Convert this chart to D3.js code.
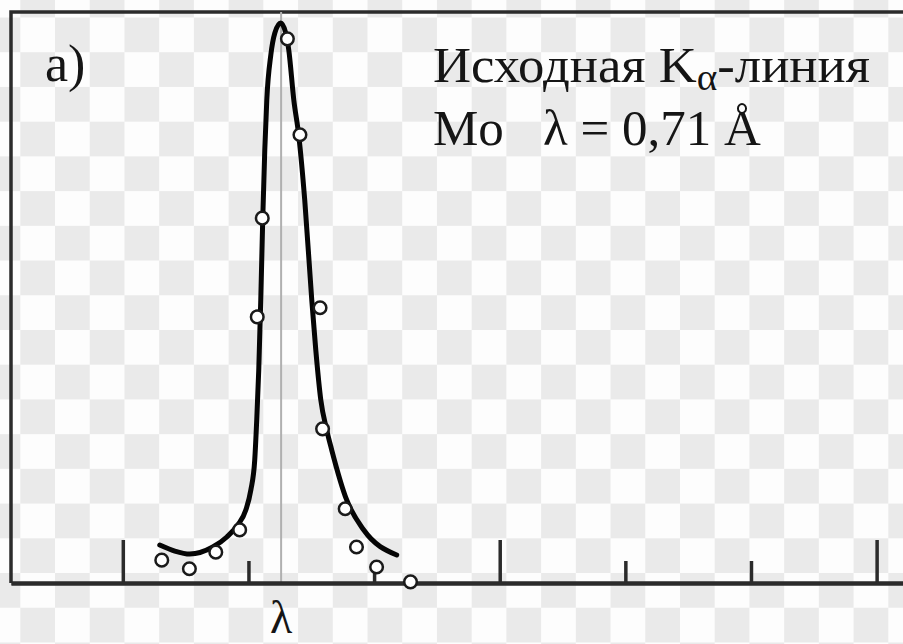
<!DOCTYPE html>
<html>
<head>
<meta charset="utf-8">
<script src="https://cdn.jsdelivr.net/npm/d3@7"></script>
<style>
  html, body { margin: 0; padding: 0; background: #fdfdfd; }
  svg { display: block; }
</style>
</head>
<body>
<div class="graph"></div>
<script>
// measured points (open circles), x in tick units, y in % of frame height
const pointX = [0.31, 0.53, 0.74, 0.93, 1.07, 1.11, 1.31, 1.41, 1.57, 1.59, 1.77, 1.86, 2.02, 2.29];
const pointY = [4.0, 2.5, 5.4, 9.3, 46.6, 63.9, 95.3, 78.5, 48.2, 27.0, 13.0, 6.3, 2.8, 0.2];

// the drawn profile of the line
const curveX = [0.294, 0.414, 0.533, 0.716, 0.828, 0.915, 0.979, 1.019, 1.050, 1.066, 1.082, 1.098, 1.114,
                1.130, 1.146, 1.178, 1.210, 1.257, 1.297, 1.321, 1.361, 1.400, 1.448, 1.504, 1.536,
                1.576, 1.623, 1.663, 1.782, 1.918, 2.180];
const curveY = [6.65, 5.60, 5.08, 6.30, 8.06, 10.16, 12.78, 16.29, 21.54, 28.55, 37.30, 49.56, 63.92,
                75.83, 84.59, 92.47, 96.32, 98.07, 96.32, 93.35, 84.59, 78.46, 67.08, 49.56, 40.81,
                32.05, 26.80, 23.29, 14.54, 9.28, 4.90];

const majorTicks = [0, 3, 6];
const minorTicks = [1, 2, 4, 5];
const lambdaX = 1.26;

const svgDim = { w: 903, h: 644 };
const frame = { left: 11, top: 12, right: 903, bottom: 583 };

const svg = d3.select('.graph')
    .append('svg')
    .attr('width', svgDim.w)
    .attr('height', svgDim.h);

// checkerboard background of the scan
const cell = 34.72;
const pat = svg.append('defs').append('pattern')
    .attr('id', 'checker')
    .attr('patternUnits', 'userSpaceOnUse')
    .attr('x', 20.3).attr('y', 17.5)
    .attr('width', cell * 2).attr('height', cell * 2);
pat.append('rect').attr('width', cell * 2).attr('height', cell * 2).attr('fill', '#fdfdfd');
pat.append('rect').attr('x', cell).attr('y', 0).attr('width', cell).attr('height', cell).attr('fill', '#eaeaea');
pat.append('rect').attr('x', 0).attr('y', cell).attr('width', cell).attr('height', cell).attr('fill', '#eaeaea');
svg.append('rect').attr('width', svgDim.w).attr('height', svgDim.h).attr('fill', 'url(#checker)');

const xScale = d3.scaleLinear()
    .domain([-0.89, 6.21])
    .range([frame.left, frame.right]);

const yScale = d3.scaleLinear()
    .domain([0, 100])
    .range([frame.bottom, frame.top]);

// frame: top and left lines
svg.append('path')
    .attr('d', `M${frame.right},${frame.top}H${frame.left}V${frame.bottom}`)
    .attr('fill', 'none')
    .attr('stroke', '#2b2b2b')
    .attr('stroke-width', 3.5);

// reference wavelength line
svg.append('line')
    .attr('x1', xScale(lambdaX)).attr('x2', xScale(lambdaX))
    .attr('y1', frame.top).attr('y2', frame.bottom)
    .attr('stroke', '#b0b0b0')
    .attr('stroke-width', 2);

// axis: long and short ticks pointing up
const axisMajor = d3.axisBottom(xScale).tickValues(majorTicks).tickSizeInner(-43).tickSizeOuter(0).tickFormat('');
const axisMinor = d3.axisBottom(xScale).tickValues(minorTicks).tickSizeInner(-22).tickSizeOuter(0).tickFormat('');

[axisMajor, axisMinor].forEach(ax => {
    const g = svg.append('g')
        .attr('transform', `translate(0,${frame.bottom})`)
        .call(ax);
    g.select('.domain').attr('stroke', '#2b2b2b').attr('stroke-width', 4);
    g.selectAll('.tick line').attr('stroke', '#2b2b2b').attr('stroke-width', 3.5);
});

// fitted curve
const line = d3.line()
    .x(d => xScale(d[0]))
    .y(d => yScale(d[1]))
    .curve(d3.curveMonotoneX);

svg.append('path')
    .datum(curveX.map((x, i) => [x, curveY[i]]))
    .attr('d', line)
    .attr('fill', 'none')
    .attr('stroke', '#050505')
    .attr('stroke-width', 5)
    .attr('stroke-linecap', 'round')
    .attr('stroke-linejoin', 'round');

// measured points
svg.selectAll('circle.pt')
    .data(pointX.map((x, i) => [x, pointY[i]]))
    .enter()
    .append('circle')
    .attr('class', 'pt')
    .attr('cx', d => xScale(d[0]))
    .attr('cy', d => yScale(d[1]))
    .attr('r', 6.3)
    .attr('fill', '#fff')
    .attr('stroke', '#1a1a1a')
    .attr('stroke-width', 2.5);

// texts
const font = '"Liberation Serif", "Times New Roman", serif';

svg.append('text')
    .attr('x', 45).attr('y', 81)
    .attr('font-family', font).attr('font-size', 52).attr('fill', '#151515')
    .text('а)');

const t1 = svg.append('text')
    .attr('x', 433).attr('y', 82)
    .attr('textLength', 437).attr('lengthAdjust', 'spacingAndGlyphs')
    .attr('font-family', font).attr('font-size', 51).attr('fill', '#151515');
t1.append('tspan').text('Исходная K');
t1.append('tspan').attr('dy', 8).attr('font-size', 38).text('α');
t1.append('tspan').attr('dy', -8).text('-линия');

svg.append('text')
    .attr('x', 433).attr('y', 145)
    .attr('font-family', font).attr('font-size', 51).attr('fill', '#151515')
    .text('Mo');

svg.append('text')
    .attr('x', 543).attr('y', 145)
    .attr('font-family', font).attr('font-size', 51).attr('fill', '#151515')
    .text('λ = 0,71 Å');

svg.append('text')
    .attr('x', xScale(lambdaX)).attr('y', 633)
    .attr('text-anchor', 'middle')
    .attr('font-family', font).attr('font-size', 46).attr('fill', '#151515')
    .text('λ');
</script>
</body>
</html>
